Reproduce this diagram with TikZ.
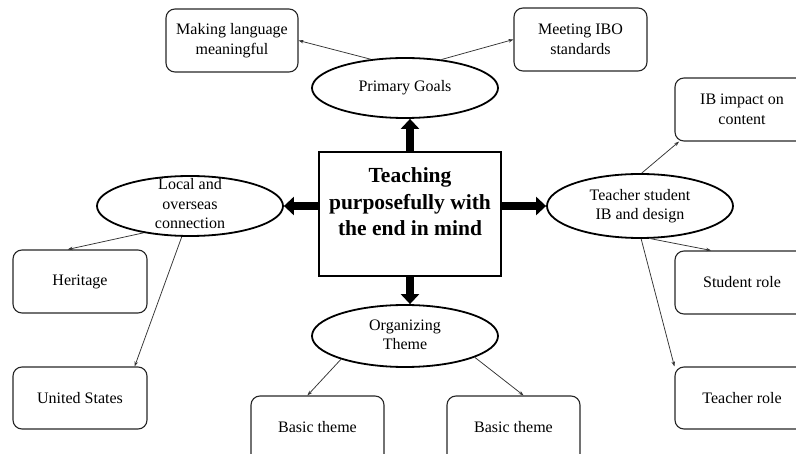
\documentclass[tikz,border=0pt]{standalone}
\usepackage{fontspec}
\setmainfont{Liberation Serif}
\usetikzlibrary{arrows.meta,shapes.geometric}
\begin{document}
\begin{tikzpicture}[x=1pt,y=-1pt,
  oval/.style={draw, line width=1.8pt, ellipse, inner sep=0pt, minimum width=186pt, minimum height=60pt},
  lbl/.style={align=center, font=\fontsize{16}{19.5}\selectfont, inner sep=0pt},
  leaf/.style={lbl, draw=black!85, line width=1.1pt, rounded corners=9pt, minimum width=133pt, minimum height=63pt},
  link/.style={draw=black!80, line width=0.75pt, -{Stealth[length=5pt,width=3.5pt]}},
  bigarrow/.style={line width=7.5pt, -{Triangle[length=10pt,width=18pt]}},
]
\useasboundingbox (0,0) rectangle (796,454);
\clip (0,0) rectangle (796,454);

% central box
\node[draw, line width=2pt, minimum width=182pt, minimum height=124pt, inner sep=0pt] (cb) at (410,214) {};
\node[align=center, font=\bfseries\fontsize{21.5}{26.5}\selectfont, inner sep=0pt] (cbT) at (410,202)
  {Teaching\\purposefully with\\the end in mind};

% the four ovals
\node[oval] (pg) at (405,88) {};
\node[lbl] (pgT) at (pg) {Primary Goals};
\node[oval] (loc) at (190,206) {};
\node[lbl] (locT) at (190,204) {Local and\\overseas\\connection};
\node[oval, minimum height=64pt] (tsd) at (640,206) {};
\node[lbl] (tsdT) at (640,206) {Teacher student\\IB and design};
\node[oval, minimum height=62pt] (ot) at (405,336) {};
\node[lbl] (otT) at (405,335) {Organizing\\Theme};

% leaves
\node[leaf, minimum width=132pt] (mk) at (232,40.5) {Making language\\meaningful};
\node[leaf] (mi) at (580.5,39.5) {Meeting IBO\\standards};
\node[leaf, minimum width=134pt] (her) at (80,281.5) {Heritage};
\node[leaf, minimum width=134pt, minimum height=62pt] (us) at (80,398) {United States};
\node[leaf, minimum width=134pt] (ib) at (742,109.5) {IB impact on\\content};
\node[leaf, minimum width=134pt] (sr) at (742,282.5) {Student role};
\node[leaf, minimum width=134pt, minimum height=62pt] (tr) at (742,398) {Teacher role};
% the two bottom boxes run past the lower edge
\node[leaf, minimum height=80pt] (bt1) at (317.5,436) {};
\node[lbl] (bt1T) at (317.5,427) {Basic theme};
\node[leaf, minimum height=80pt] (bt2) at (513.5,436) {};
\node[lbl] (bt2T) at (513.5,427) {Basic theme};

% thin connectors
\draw[link] (pg.140) -- (mk.east);
\draw[link] (pg.38) -- (mi.west);
\draw[link] (loc.210) -- (her.111);
\draw[link] (loc.255) -- (us.30);
\draw[link] (tsd.87) -- (ib.207);
\draw[link] (tsd.288) -- (sr.134);
\draw[link] (tsd.272) -- (tr.north west);
\draw[link] (ot.200) -- (bt1.north -| bt1T.150);
\draw[link] (ot.343) -- (bt2.north -| bt2T.30);

% thick arrows out of the central box
\draw[bigarrow] (cb.north) -- (cb.north |- pg.south);
\draw[bigarrow] (cb.south) -- (cb.south |- ot.north);
\draw[bigarrow] (cb.west |- loc.east) -- (loc.east);
\draw[bigarrow] (cb.east |- tsd.west) -- (tsd.west);
\end{tikzpicture}
\end{document}
